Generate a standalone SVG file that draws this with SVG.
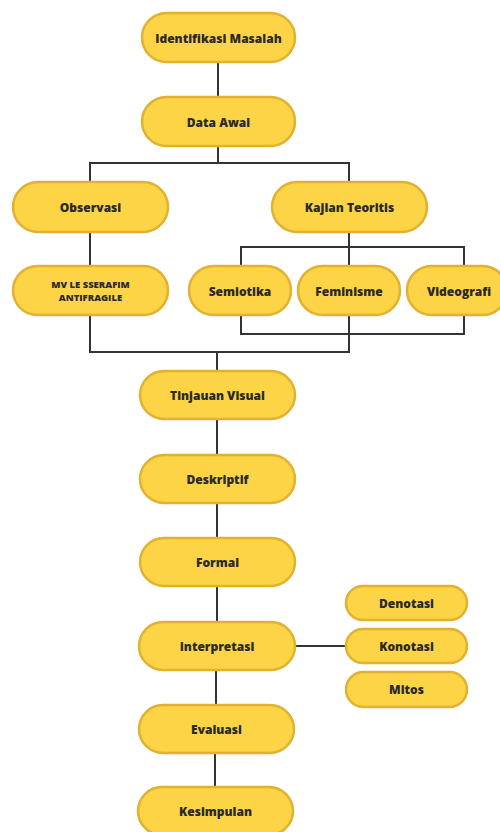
<svg xmlns="http://www.w3.org/2000/svg" width="500" height="832" viewBox="0 0 500 832">
<style>
.n{fill:#FCD445;stroke:#E2B131;stroke-width:2.5}
.t{font-family:"Open Sans","DejaVu Sans",sans-serif;font-weight:800;font-size:12px;fill:#2a2a2a;text-anchor:middle;dominant-baseline:central}
.s{font-size:9.5px}
.c{fill:none;stroke:#333;stroke-width:2}
</style>
<rect width="500" height="832" fill="#fff"/>
<g id="connectors">
<path class="c" d="M218 62V97"/>
<path class="c" d="M218 147V163M90 182V163H349V182"/>
<path class="c" d="M90 232V266"/>
<path class="c" d="M349 232V266M241 266V247H464V266"/>
<path class="c" d="M241 315V334H464V315"/>
<path class="c" d="M90 315V352H349V315"/>
<path class="c" d="M217 352V371"/>
<path class="c" d="M217 419V455"/>
<path class="c" d="M217 503V538"/>
<path class="c" d="M217 587V622"/>
<path class="c" d="M295 646H346"/>
<path class="c" d="M216 670V705"/>
<path class="c" d="M215 753V787"/>
</g>
<g id="identifikasi"><rect class="n" x="142" y="13" width="153" height="49" rx="24.5"/><text class="t" x="218.5" y="38">Identifikasi Masalah</text></g>
<g id="data-awal"><rect class="n" x="142" y="97" width="153" height="49" rx="24.5"/><text class="t" x="218.5" y="122">Data Awal</text></g>
<g id="observasi"><rect class="n" x="13" y="182" width="155" height="50" rx="25"/><text class="t" x="90.5" y="207">Observasi</text></g>
<g id="kajian"><rect class="n" x="272" y="182" width="155" height="50" rx="25"/><text class="t" x="349.5" y="207">Kajian Teoritis</text></g>
<g id="mv"><rect class="n" x="13" y="266" width="155" height="49" rx="24.5"/><text class="t s" x="90.5" y="284">MV LE SSERAFIM</text><text class="t s" x="90.5" y="297">ANTIFRAGILE</text></g>
<g id="semiotika"><rect class="n" x="189" y="266" width="102" height="49" rx="24.5"/><text class="t" x="240" y="291">Semiotika</text></g>
<g id="feminisme"><rect class="n" x="298" y="266" width="102" height="49" rx="24.5"/><text class="t" x="349" y="291">Feminisme</text></g>
<g id="videografi"><rect class="n" x="407" y="266" width="100" height="49" rx="24.5"/><text class="t" x="459" y="291">Videografi</text></g>
<g id="tinjauan"><rect class="n" x="140" y="371" width="155" height="48" rx="24"/><text class="t" x="217.5" y="395">Tinjauan Visual</text></g>
<g id="deskriptif"><rect class="n" x="140" y="455" width="155" height="48" rx="24"/><text class="t" x="217.5" y="479">Deskriptif</text></g>
<g id="formal"><rect class="n" x="140" y="538" width="155" height="48" rx="24"/><text class="t" x="217.5" y="562">Formal</text></g>
<g id="interpretasi"><rect class="n" x="139" y="622" width="156" height="48" rx="24"/><text class="t" x="217" y="646">Interpretasi</text></g>
<g id="denotasi"><rect class="n" x="346" y="586" width="121" height="34" rx="17"/><text class="t" x="406.5" y="603">Denotasi</text></g>
<g id="konotasi"><rect class="n" x="346" y="629" width="121" height="34" rx="17"/><text class="t" x="406.5" y="646">Konotasi</text></g>
<g id="mitos"><rect class="n" x="346" y="672" width="121" height="35" rx="17.5"/><text class="t" x="406.5" y="689.5">Mitos</text></g>
<g id="evaluasi"><rect class="n" x="139" y="705" width="155" height="48" rx="24"/><text class="t" x="216.5" y="729">Evaluasi</text></g>
<g id="kesimpulan"><rect class="n" x="138" y="787" width="155" height="48" rx="24"/><text class="t" x="215.5" y="811">Kesimpulan</text></g>
</svg>
